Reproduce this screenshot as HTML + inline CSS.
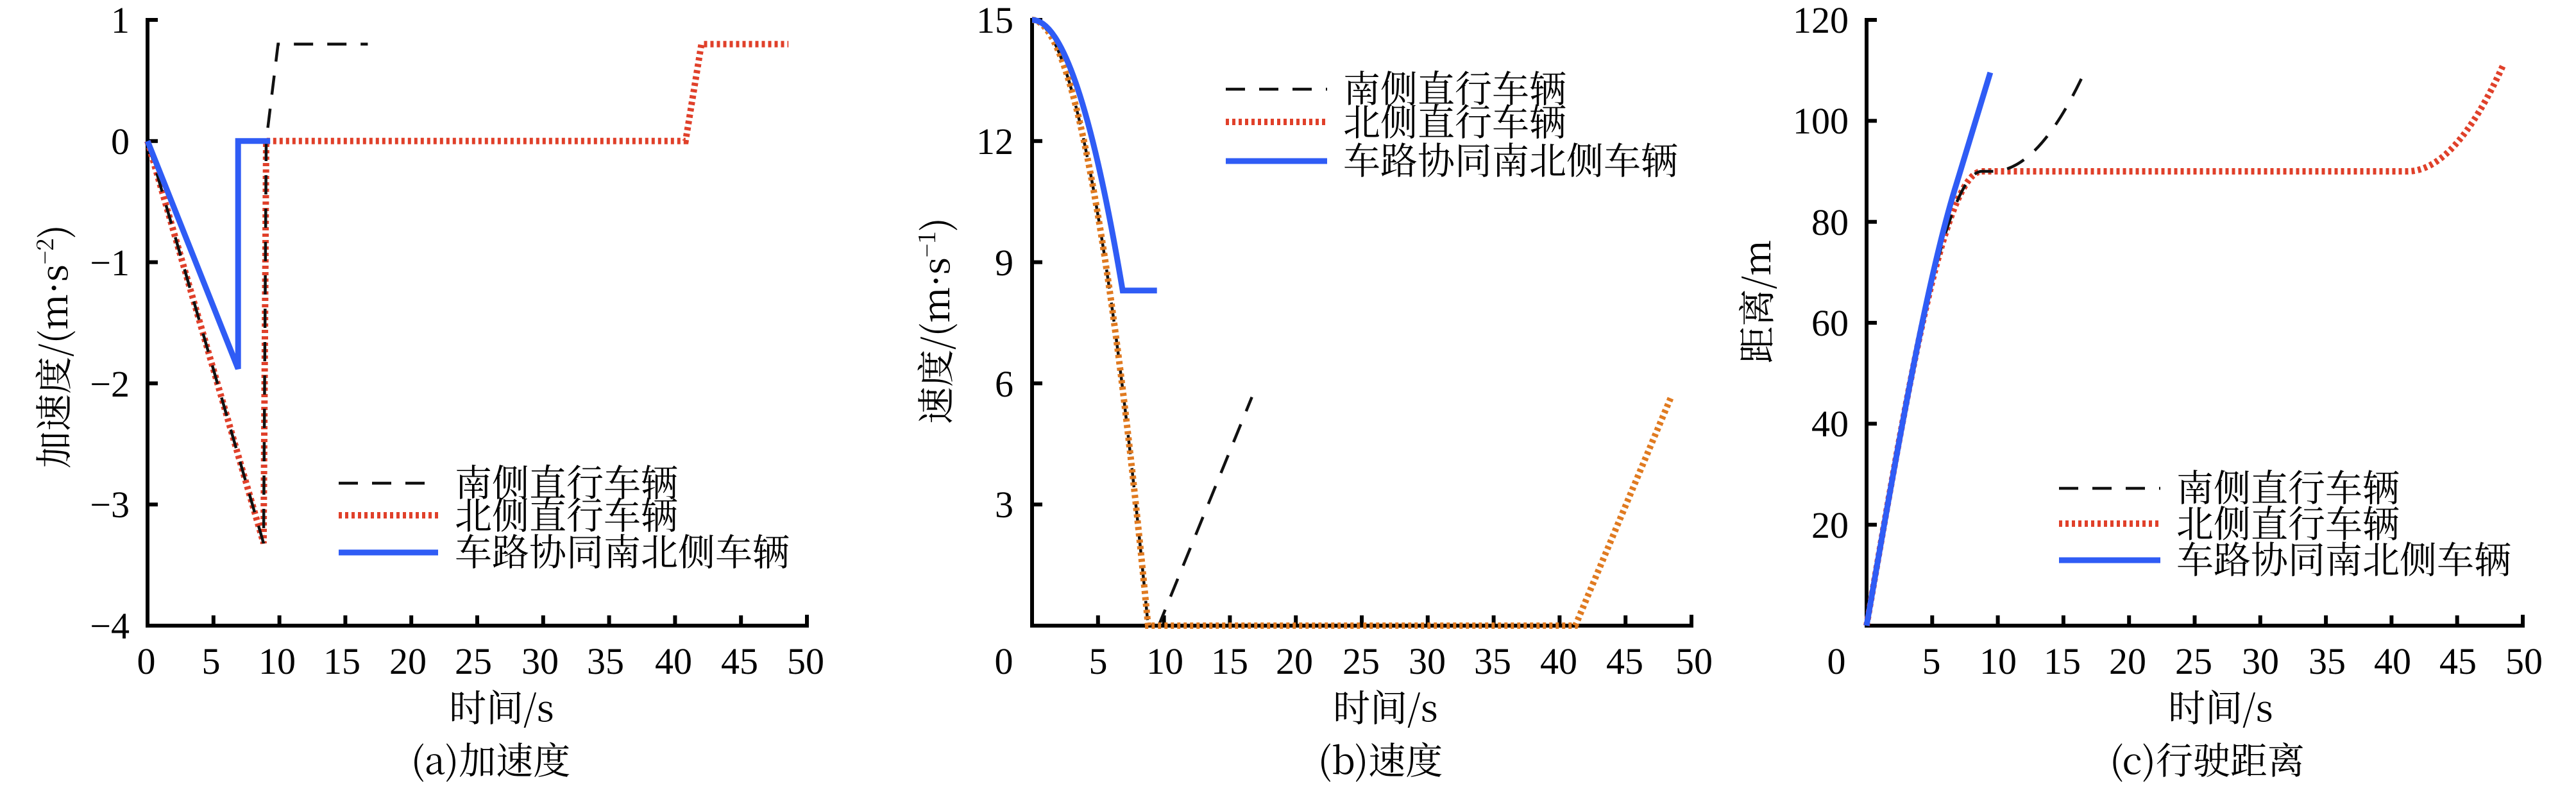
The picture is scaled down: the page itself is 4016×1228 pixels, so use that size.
<!DOCTYPE html>
<html><head><meta charset="utf-8"><style>
html,body{margin:0;padding:0;background:#fff;}
svg{display:block;}
text{font-family:"Liberation Serif","Noto Serif CJK SC","Noto Sans CJK SC",serif;fill:#000;}
.cn{font-family:"Noto Serif CJK SC","Liberation Serif","Noto Sans CJK SC",serif;}
</style></head><body>
<svg width="4016" height="1228" viewBox="0 0 4016 1228" xmlns="http://www.w3.org/2000/svg">
<defs>
<style>
.ax{stroke:#000;stroke-width:6;fill:none;}
.tk{stroke:#000;stroke-width:6;}
.tl{font-size:58px;}
.cn{font-size:58px;}
.blk{stroke:#111;stroke-width:4.5;fill:none;stroke-dasharray:30 22;}
.red{stroke:#e0402a;stroke-width:10;fill:none;stroke-dasharray:5 5;}
.org{stroke:#e07a20;stroke-width:10;fill:none;stroke-dasharray:5 5;}
.blu{stroke:#2f5cf5;stroke-width:9;fill:none;stroke-linejoin:miter;}
</style>
</defs>

<!-- ========== Panel a ========== -->
<g>
<path class="ax" d="M230,28 V975 H1258 V958"/>
<g class="tk">
<line x1="230" y1="31" x2="246" y2="31"/><line x1="230" y1="219.8" x2="246" y2="219.8"/><line x1="230" y1="408.6" x2="246" y2="408.6"/><line x1="230" y1="597.4" x2="246" y2="597.4"/><line x1="230" y1="786.2" x2="246" y2="786.2"/>
<line x1="332.8" y1="975" x2="332.8" y2="959"/><line x1="435.6" y1="975" x2="435.6" y2="959"/><line x1="538.4" y1="975" x2="538.4" y2="959"/><line x1="641.2" y1="975" x2="641.2" y2="959"/><line x1="744" y1="975" x2="744" y2="959"/><line x1="846.8" y1="975" x2="846.8" y2="959"/><line x1="949.6" y1="975" x2="949.6" y2="959"/><line x1="1052.4" y1="975" x2="1052.4" y2="959"/><line x1="1155.2" y1="975" x2="1155.2" y2="959"/>
</g>
<g class="tl" text-anchor="end">
<text x="202" y="51">1</text><text x="202" y="240">0</text><text x="202" y="429">−1</text><text x="202" y="618">−2</text><text x="202" y="806">−3</text><text x="202" y="995">−4</text>
</g>
<g class="tl" text-anchor="middle">
<text x="228" y="1050">0</text><text x="329" y="1050">5</text><text x="432" y="1050">10</text><text x="533" y="1050">15</text><text x="636" y="1050">20</text><text x="738" y="1050">25</text><text x="842" y="1050">30</text><text x="944" y="1050">35</text><text x="1050" y="1050">40</text><text x="1153" y="1050">45</text><text x="1256" y="1050">50</text>
</g>
<text class="cn" x="782" y="1124" text-anchor="middle">时间/s</text>
<text class="cn" x="765" y="1206" text-anchor="middle">(a)加速度</text>
<text class="cn" transform="translate(105,540) rotate(-90)" text-anchor="middle">加速度/(m·s<tspan dy="-22" font-size="36">−2</tspan><tspan dy="22">)</tspan></text>
<polyline class="red" points="230,219.8 410.9,846.6 415,219.8 1068.8,219.8 1093.5,68.8 1229.2,68.8"/>
<polyline class="blk" points="230,219.8 410.9,846.6 415,219.8 433.5,68.8 573.4,68.8"/>
<polyline class="blu" points="230,219.8 371.2,574.7 371.2,219.8 421.2,219.8"/>
<line class="blk" x1="528" y1="753" x2="683" y2="753"/>
<line class="red" x1="528" y1="803" x2="683" y2="803"/>
<line class="blu" x1="528" y1="861" x2="683" y2="861"/>
<text class="cn" x="709" y="773">南侧直行车辆</text>
<text class="cn" x="709" y="824">北侧直行车辆</text>
<text class="cn" x="709" y="881">车路协同南北侧车辆</text>
</g>

<!-- ========== Panel b ========== -->
<g>
<path class="ax" d="M1609,28 V975 H2637 V958"/>
<g class="tk">
<line x1="1609" y1="31" x2="1625" y2="31"/><line x1="1609" y1="219.8" x2="1625" y2="219.8"/><line x1="1609" y1="408.6" x2="1625" y2="408.6"/><line x1="1609" y1="597.4" x2="1625" y2="597.4"/><line x1="1609" y1="786.2" x2="1625" y2="786.2"/>
<line x1="1711.8" y1="975" x2="1711.8" y2="959"/><line x1="1814.6" y1="975" x2="1814.6" y2="959"/><line x1="1917.4" y1="975" x2="1917.4" y2="959"/><line x1="2020.2" y1="975" x2="2020.2" y2="959"/><line x1="2123" y1="975" x2="2123" y2="959"/><line x1="2225.8" y1="975" x2="2225.8" y2="959"/><line x1="2328.6" y1="975" x2="2328.6" y2="959"/><line x1="2431.4" y1="975" x2="2431.4" y2="959"/><line x1="2534.2" y1="975" x2="2534.2" y2="959"/>
</g>
<g class="tl" text-anchor="end">
<text x="1580" y="51">15</text><text x="1580" y="240">12</text><text x="1580" y="429">9</text><text x="1580" y="618">6</text><text x="1580" y="806">3</text>
</g>
<g class="tl" text-anchor="middle">
<text x="1565" y="1050">0</text><text x="1712" y="1050">5</text><text x="1816" y="1050">10</text><text x="1917" y="1050">15</text><text x="2018" y="1050">20</text><text x="2122" y="1050">25</text><text x="2225" y="1050">30</text><text x="2327" y="1050">35</text><text x="2430" y="1050">40</text><text x="2533" y="1050">45</text><text x="2641" y="1050">50</text>
</g>
<text class="cn" x="2160" y="1124" text-anchor="middle">时间/s</text>
<text class="cn" x="2152" y="1206" text-anchor="middle">(b)速度</text>
<text class="cn" transform="translate(1480,500) rotate(-90)" text-anchor="middle">速度/(m·s<tspan dy="-22" font-size="36">−1</tspan><tspan dy="22">)</tspan></text>
<path class="blk" d="M1609,31 Q1699.5,31 1789.9,975 L1806.4,975 L1951.7,618.8"/>
<path class="org" d="M1609,31 Q1699.5,31 1789.9,975 L2456,975 L2606.2,616.3"/>
<path class="blu" d="M1609,31 Q1679.6,31 1750.2,452.7 L1803.7,452.7"/>
<line class="blk" x1="1911" y1="139" x2="2069" y2="139"/>
<line class="red" x1="1911" y1="190" x2="2069" y2="190"/>
<line class="blu" x1="1911" y1="251" x2="2069" y2="251"/>
<text class="cn" x="2094" y="159">南侧直行车辆</text>
<text class="cn" x="2094" y="211">北侧直行车辆</text>
<text class="cn" x="2094" y="271">车路协同南北侧车辆</text>
</g>

<!-- ========== Panel c ========== -->
<g>
<path class="ax" d="M2910,28 V975 H3933 V958"/>
<g class="tk">
<line x1="2910" y1="31" x2="2926" y2="31"/><line x1="2910" y1="188.3" x2="2926" y2="188.3"/><line x1="2910" y1="345.7" x2="2926" y2="345.7"/><line x1="2910" y1="503" x2="2926" y2="503"/><line x1="2910" y1="660.3" x2="2926" y2="660.3"/><line x1="2910" y1="817.7" x2="2926" y2="817.7"/>
<line x1="3012.3" y1="975" x2="3012.3" y2="959"/><line x1="3114.6" y1="975" x2="3114.6" y2="959"/><line x1="3216.9" y1="975" x2="3216.9" y2="959"/><line x1="3319.2" y1="975" x2="3319.2" y2="959"/><line x1="3421.5" y1="975" x2="3421.5" y2="959"/><line x1="3523.8" y1="975" x2="3523.8" y2="959"/><line x1="3626.1" y1="975" x2="3626.1" y2="959"/><line x1="3728.4" y1="975" x2="3728.4" y2="959"/><line x1="3830.7" y1="975" x2="3830.7" y2="959"/>
</g>
<g class="tl" text-anchor="end">
<text x="2882" y="51">120</text><text x="2882" y="208">100</text><text x="2882" y="366">80</text><text x="2882" y="523">60</text><text x="2882" y="680">40</text><text x="2882" y="838">20</text>
</g>
<g class="tl" text-anchor="middle">
<text x="2863" y="1050">0</text><text x="3011" y="1050">5</text><text x="3115" y="1050">10</text><text x="3215" y="1050">15</text><text x="3317" y="1050">20</text><text x="3420" y="1050">25</text><text x="3524" y="1050">30</text><text x="3628" y="1050">35</text><text x="3730" y="1050">40</text><text x="3832" y="1050">45</text><text x="3935" y="1050">50</text>
</g>
<text class="cn" x="3462" y="1124" text-anchor="middle">时间/s</text>
<text class="cn" x="3441" y="1206" text-anchor="middle">(c)行驶距离</text>
<text class="cn" transform="translate(2760,470) rotate(-90)" text-anchor="middle">距离/m</text>
<path class="red" d="M2910,975 C2970,628.9 3030,267 3090,267 L3752.9,267 Q3827.6,267 3902.3,101.8"/>
<path class="blk" d="M2910,975 C2970,628.9 3030,267 3090,267 L3106.4,267 Q3178.7,267 3251,109.6"/>
<path class="blu" d="M2910,975 C2956.9,704.8 3003.7,434.5 3050.6,285 L3102.9,113"/>
<line class="blk" x1="3210" y1="761" x2="3368" y2="761"/>
<line class="red" x1="3210" y1="816" x2="3368" y2="816"/>
<line class="blu" x1="3210" y1="873" x2="3368" y2="873"/>
<text class="cn" x="3393" y="781">南侧直行车辆</text>
<text class="cn" x="3393" y="837">北侧直行车辆</text>
<text class="cn" x="3393" y="893">车路协同南北侧车辆</text>
</g>
</svg>
</body></html>
